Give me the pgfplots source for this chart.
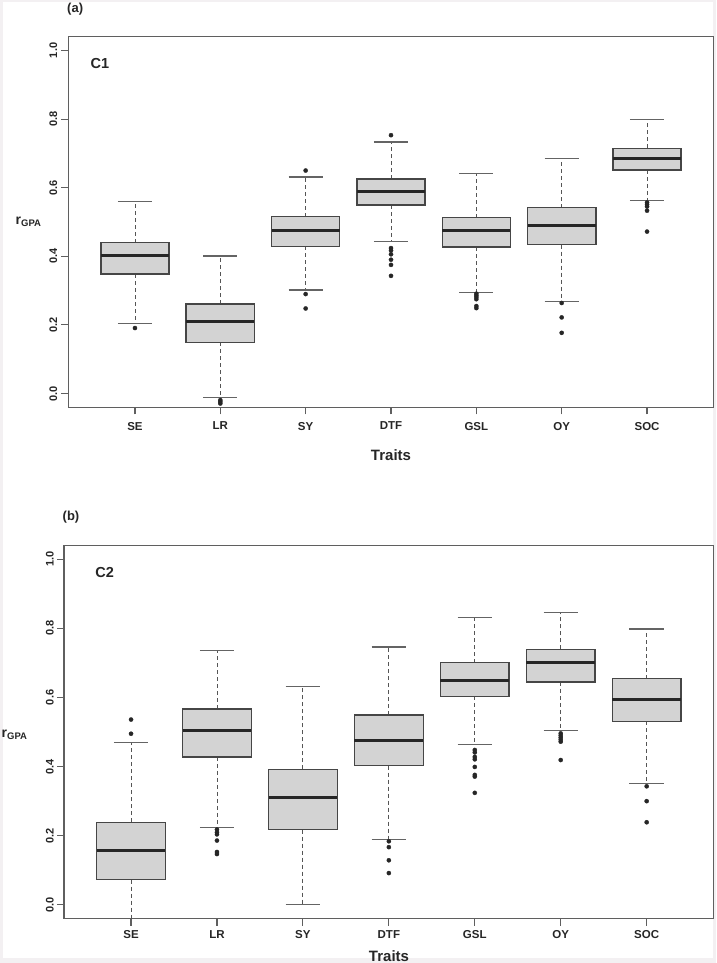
\documentclass[border=0pt]{standalone}
\usepackage{pgfplots}
\pgfplotsset{compat=1.18}
\usepgfplotslibrary{statistics}
\usepackage{fontspec}
\setmainfont{Liberation Sans}
\definecolor{boxgray}{RGB}{211,211,211}
\definecolor{edgegray}{RGB}{70,70,70}
\definecolor{framegray}{RGB}{95,95,95}
\definecolor{whiskgray}{RGB}{85,85,85}
\definecolor{capgray}{RGB}{100,100,100}
\definecolor{bordercol}{RGB}{243,240,242}

\pgfplotsset{
  rpanel/.style={
    scale only axis,
    xmin=0.22, xmax=7.78,
    ymin=-0.04, ymax=1.04,
    xtick={1,2,3,4,5,6,7},
    xticklabels={SE,LR,SY,DTF,GSL,OY,SOC},
    ytick={0,0.2,0.4,0.6,0.8,1.0},
    xtick pos=bottom, ytick pos=left,
    tick align=outside,
    major tick length=7pt,
    every tick/.style={framegray, line width=1.1pt},
    axis line style={framegray, line width=1.3pt},
    /pgf/number format/assume math mode=true,
    yticklabel style={/pgf/number format/fixed, /pgf/number format/fixed zerofill, /pgf/number format/precision=1,
      rotate=90, anchor=south, inner sep=0pt, font=\fontsize{11}{13}\selectfont\bfseries, text=black!85},
    xticklabel style={anchor=north, inner sep=0pt, font=\fontsize{11.5}{13}\selectfont\bfseries, text=black!85},
  },
  rbox/.style={
    boxplot/draw direction=y,
    boxplot/box extend=0.8,
    boxplot/whisker extend=0.4,
    boxplot/draw/box/.code={\draw[fill=boxgray, draw=edgegray, line width=1.4pt, solid] (boxplot box cs:\pgfplotsboxplotvalue{lower quartile},0) rectangle (boxplot box cs:\pgfplotsboxplotvalue{upper quartile},1);},
    boxplot/draw/median/.code={\draw[draw=black!85, line width=3pt, solid] (boxplot box cs:\pgfplotsboxplotvalue{median},0) -- (boxplot box cs:\pgfplotsboxplotvalue{median},1);},
    boxplot/draw/lower whisker/.code={%
      \draw[draw=whiskgray, line width=0.9pt, dash pattern=on 4pt off 3pt] (boxplot box cs:\pgfplotsboxplotvalue{lower quartile},0.5) -- (boxplot box cs:\pgfplotsboxplotvalue{lower whisker},0.5);
      \draw[draw=capgray, line width=1.2pt, solid] (boxplot whisker cs:\pgfplotsboxplotvalue{lower whisker},0) -- (boxplot whisker cs:\pgfplotsboxplotvalue{lower whisker},1);},
    boxplot/draw/upper whisker/.code={%
      \draw[draw=whiskgray, line width=0.9pt, dash pattern=on 4pt off 3pt] (boxplot box cs:\pgfplotsboxplotvalue{upper quartile},0.5) -- (boxplot box cs:\pgfplotsboxplotvalue{upper whisker},0.5);
      \draw[draw=capgray, line width=1.2pt, solid] (boxplot whisker cs:\pgfplotsboxplotvalue{upper whisker},0) -- (boxplot whisker cs:\pgfplotsboxplotvalue{upper whisker},1);},
    draw=black, mark=*, mark size=2.1pt, mark options={fill=black!85, draw=black!85, solid, line width=0.3pt},
  },
}

\begin{document}
\begin{tikzpicture}
\path[use as bounding box] (0pt,0pt) rectangle (716pt,-963pt);
\fill[bordercol] (0pt,0pt) rectangle (716pt,-963pt);
\fill[white] (3pt,-2pt) rectangle (713pt,-958pt);

% ---------------- Panel (a) ----------------
\begin{axis}[rpanel, at={(68.4pt,-407.3pt)}, anchor=south west, width=645.2pt, height=370.6pt,
  yticklabel shift=4pt, xticklabel shift=7.5pt]
\addplot[rbox, boxplot prepared={draw position=1, lower whisker=0.205, lower quartile=0.348, median=0.401, upper quartile=0.440, upper whisker=0.559}]
  table[row sep=\\, y index=0] {y\\ 0.191\\};
\addplot[rbox, boxplot prepared={draw position=2, lower whisker=-0.012, lower quartile=0.149, median=0.209, upper quartile=0.261, upper whisker=0.401}]
  table[row sep=\\, y index=0] {y\\ -0.019\\ -0.024\\ -0.029\\};
\addplot[rbox, boxplot prepared={draw position=3, lower whisker=0.302, lower quartile=0.429, median=0.475, upper quartile=0.516, upper whisker=0.631}]
  table[row sep=\\, y index=0] {y\\ 0.650\\ 0.290\\ 0.248\\};
\addplot[rbox, boxplot prepared={draw position=4, lower whisker=0.444, lower quartile=0.549, median=0.590, upper quartile=0.625, upper whisker=0.733}]
  table[row sep=\\, y index=0] {y\\ 0.753\\ 0.424\\ 0.417\\ 0.406\\ 0.390\\ 0.375\\ 0.343\\};
\addplot[rbox, boxplot prepared={draw position=5, lower whisker=0.294, lower quartile=0.427, median=0.474, upper quartile=0.513, upper whisker=0.641}]
  table[row sep=\\, y index=0] {y\\ 0.291\\ 0.286\\ 0.281\\ 0.275\\ 0.255\\ 0.249\\};
\addplot[rbox, boxplot prepared={draw position=6, lower whisker=0.269, lower quartile=0.434, median=0.489, upper quartile=0.542, upper whisker=0.684}]
  table[row sep=\\, y index=0] {y\\ 0.264\\ 0.222\\ 0.177\\};
\addplot[rbox, boxplot prepared={draw position=7, lower whisker=0.563, lower quartile=0.652, median=0.684, upper quartile=0.715, upper whisker=0.799}]
  table[row sep=\\, y index=0] {y\\ 0.557\\ 0.551\\ 0.545\\ 0.533\\ 0.472\\};
\end{axis}

% ---------------- Panel (b) ----------------
\begin{axis}[rpanel, at={(64pt,-918.7pt)}, anchor=south west, width=649.7pt, height=373.4pt,
  yticklabel shift=3pt, xticklabel shift=5pt]
\addplot[rbox, boxplot prepared={draw position=1, lower whisker=-0.09, lower quartile=0.073, median=0.157, upper quartile=0.239, upper whisker=0.470}]
  table[row sep=\\, y index=0] {y\\ 0.495\\ 0.536\\};
\addplot[rbox, boxplot prepared={draw position=2, lower whisker=0.224, lower quartile=0.428, median=0.504, upper quartile=0.567, upper whisker=0.735}]
  table[row sep=\\, y index=0] {y\\ 0.218\\ 0.210\\ 0.204\\ 0.186\\ 0.153\\ 0.147\\};
\addplot[rbox, boxplot prepared={draw position=3, lower whisker=0.000, lower quartile=0.218, median=0.311, upper quartile=0.392, upper whisker=0.632}]
  coordinates {};
\addplot[rbox, boxplot prepared={draw position=4, lower whisker=0.188, lower quartile=0.403, median=0.476, upper quartile=0.549, upper whisker=0.746}]
  table[row sep=\\, y index=0] {y\\ 0.184\\ 0.167\\ 0.129\\ 0.092\\};
\addplot[rbox, boxplot prepared={draw position=5, lower whisker=0.464, lower quartile=0.603, median=0.650, upper quartile=0.701, upper whisker=0.832}]
  table[row sep=\\, y index=0] {y\\ 0.448\\ 0.441\\ 0.428\\ 0.421\\ 0.399\\ 0.376\\ 0.371\\ 0.324\\};
\addplot[rbox, boxplot prepared={draw position=6, lower whisker=0.504, lower quartile=0.645, median=0.702, upper quartile=0.739, upper whisker=0.845}]
  table[row sep=\\, y index=0] {y\\ 0.496\\ 0.490\\ 0.484\\ 0.478\\ 0.472\\ 0.419\\};
\addplot[rbox, boxplot prepared={draw position=7, lower whisker=0.350, lower quartile=0.531, median=0.594, upper quartile=0.654, upper whisker=0.798}]
  table[row sep=\\, y index=0] {y\\ 0.343\\ 0.300\\ 0.239\\};
\end{axis}

% ---------------- Text ----------------
\node[anchor=west, font=\fontsize{13}{15}\selectfont\bfseries, text=black!85, inner sep=0pt] at (67pt,-9pt) {(a)};
\node[anchor=west, font=\fontsize{13}{15}\selectfont\bfseries, text=black!85, inner sep=0pt] at (62.5pt,-517.3pt) {(b)};
\node[font=\fontsize{14.5}{16}\selectfont\bfseries, text=black!85, inner sep=0pt] at (100pt,-63.7pt) {C1};
\node[font=\fontsize{14.5}{16}\selectfont\bfseries, text=black!85, inner sep=0pt] at (104.7pt,-572.7pt) {C2};
\node[anchor=base west, font=\fontsize{14}{16}\selectfont\bfseries, text=black!85, inner sep=0pt] at (15.5pt,-224pt) {r\raisebox{-2.7pt}{\fontsize{9.5}{11}\selectfont GPA}};
\node[anchor=base west, font=\fontsize{14}{16}\selectfont\bfseries, text=black!85, inner sep=0pt] at (1.5pt,-737pt) {r\raisebox{-2.7pt}{\fontsize{9.5}{11}\selectfont GPA}};
\node[font=\fontsize{15}{17}\selectfont\bfseries, text=black!85, inner sep=0pt] at (391pt,-455pt) {Traits};
\node[font=\fontsize{15}{17}\selectfont\bfseries, text=black!85, inner sep=0pt] at (389pt,-956pt) {Traits};
\end{tikzpicture}
\end{document}
